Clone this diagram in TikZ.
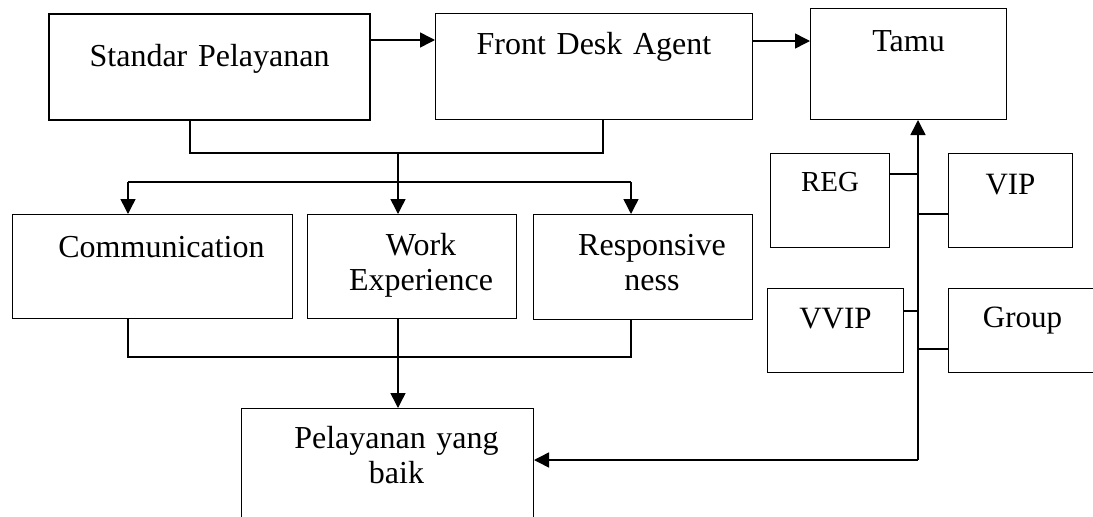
\documentclass[tikz,border=0pt]{standalone}
\usepackage{fontspec}
\setmainfont{Liberation Serif}
\usetikzlibrary{arrows.meta}
\tikzset{ b/.style = { draw
                     , line width   = 1pt
                     , inner sep    = 0pt
                     , anchor       = north west
                     , align        = center
                     , font         = \fontsize{32}{35}\selectfont
                     },
          bb/.style = { b
                      , line width = 2.2pt
                      },
          sb/.style = { b
                      , font = \fontsize{31}{35}\selectfont
                      },
          ln/.style = { line width = 1.5pt
                      },
          arr/.style = { ln
                       , -{Triangle[length=15pt,width=15pt]}
                       }
        }

\begin{document}
\begin{tikzpicture}
    [x=1pt, y=-1pt]
    \useasboundingbox (0,0) rectangle (1093,517);
    % top row
    \node[bb, text width=321pt, text height=52pt, text depth=54pt] (sp)   at (48,13)  {Standar Pelayanan};
    \node[b,  text width=317pt, text height=41pt, text depth=65pt] (fda)  at (435,13) {Front Desk Agent};
    \node[b,  text width=196pt, text height=43pt, text depth=68pt] (tamu) at (810,8)  {Tamu};
    % middle row
    \node[b, text width=280pt, text height=43pt, text depth=61pt] (comm) at (12,214)  {\hspace*{18pt}Communication};
    \node[b, text width=209pt, text height=41pt, text depth=63pt] (we)   at (307,214) {\hspace*{18pt}Work\\\hspace*{18pt}Experience};
    \node[b, text width=219pt, text height=41pt, text depth=64pt] (resp) at (533,214) {\hspace*{18pt}Responsive\\\hspace*{18pt}ness};
    \node[b, text width=292pt, text height=40pt, text depth=100pt] (pyb) at (241,408) {\hspace*{18pt}Pelayanan yang\\\hspace*{18pt}baik};
    % jenis tamu
    \node[sb, text width=119pt, text height=38pt, text depth=56pt,
          font=\fontsize{29}{35}\selectfont]                        (reg)   at (770,153) {REG};
    \node[sb, text width=124pt, text height=41pt, text depth=53pt] (vip)   at (948,153) {VIP};
    \node[sb, text width=136pt, text height=40pt, text depth=44pt] (vvip)  at (767,288) {VVIP};
    \node[sb, text width=148pt, text height=39pt, text depth=45pt] (group) at (948,288) {Group};

    \coordinate (top) at (398,153);
    \coordinate (brl) at (128,182);
    \coordinate (brr) at (631,182);
    \coordinate (bl)  at (128,357);
    \coordinate (br)  at (631,357);
    \coordinate (hub) at (918,460);

    \draw[arr] (sp.east |- 0,40) -- (fda.west |- 0,40);
    \draw[arr] (fda.east |- 0,41) -- (tamu.west |- 0,41);
    \draw[ln] (sp.south -| 190,0) |- (top) -| (fda.south -| 603,0);
    \draw[arr] (top) -- (we.north -| top);
    \draw[ln] (brl) -- (brr);
    \draw[arr] (brl) -- (comm.north -| brl);
    \draw[arr] (brr) -- (resp.north -| brr);
    \draw[ln] (comm.south -| bl) -- (bl) -- (br) -- (resp.south -| br);
    \draw[arr] (we.south -| top) -- (pyb.north -| top);
    \draw[arr] (hub) -- (tamu.south -| hub);
    \draw[arr] (hub) -- (pyb.east |- hub);
    \draw[ln, line width=1.2pt] (reg.east |- 0,174)   -- (hub |- 0,174);
    \draw[ln, line width=1.2pt] (vip.west |- 0,214)   -- (hub |- 0,214);
    \draw[ln, line width=1.2pt] (vvip.east |- 0,311)  -- (hub |- 0,311);
    \draw[ln, line width=1.2pt] (group.west |- 0,349) -- (hub |- 0,349);
\end{tikzpicture}
\end{document}
